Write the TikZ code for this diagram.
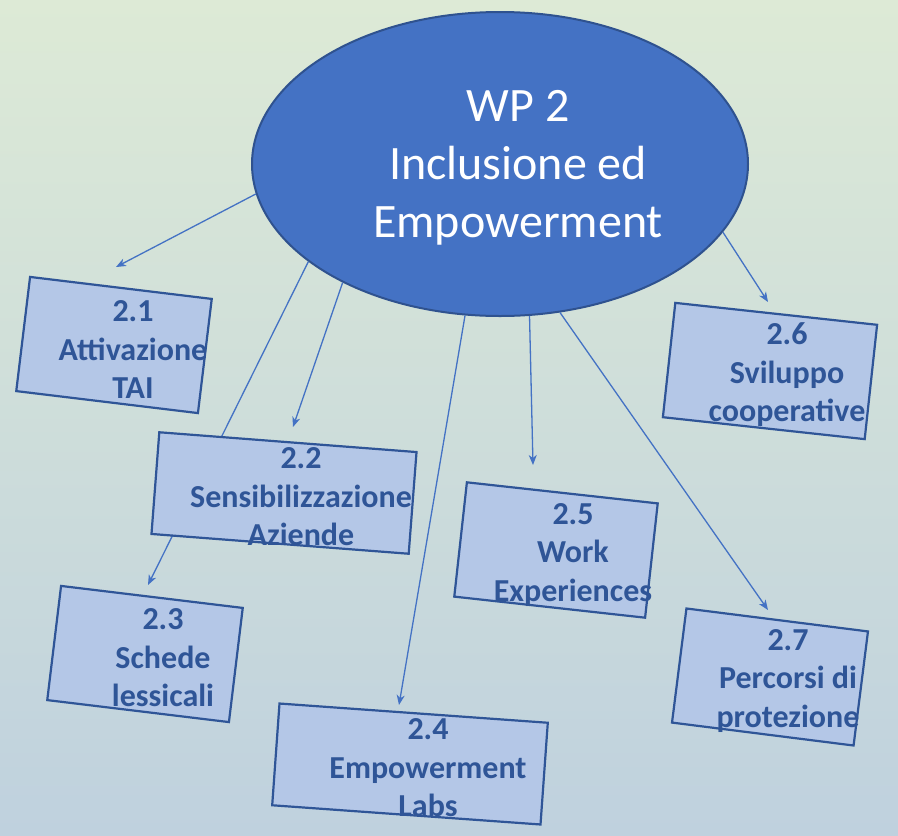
\documentclass[tikz,border=0pt]{standalone}
\usepackage{fontspec}
\setmainfont{Carlito}
\usepackage{xcolor}
\usepackage{tikz}
\usetikzlibrary{shapes,arrows.meta,positioning,calc}

\definecolor{bgtop}{HTML}{DDEAD6}
\definecolor{bgbot}{HTML}{BFD1DE}
\definecolor{wpfill}{HTML}{4472C4}
\definecolor{wpline}{HTML}{2F528F}
\definecolor{boxfill}{HTML}{B4C7E7}
\definecolor{boxline}{HTML}{2F5597}

\tikzset{
  wpbox/.style={draw=boxline,fill=boxfill,line width=2.2pt,inner sep=0pt},
  wptext/.style={align=center,text=boxline,font=\fontsize{32}{38.5}\selectfont\bfseries},
  link/.style={draw=wpfill,line width=1.3pt,-{Stealth[length=10pt,width=8pt,inset=3pt]}}
}

\begin{document}
\begin{tikzpicture}[x=1pt,y=-1pt]
    \useasboundingbox (0,0) rectangle (898,836);
    \shade[top color=bgtop,bottom color=bgbot] (0,0) rectangle (898,836);

    % Central ellipse
    \node[draw=wpline,fill=wpfill,line width=2pt,ellipse,minimum width=496pt,minimum height=304pt,inner sep=0pt] (wp) at (500,164) {};
    \node[align=center,text=white,font=\fontsize{48}{58}\selectfont] (wplabel) at (518,168) {WP 2\\Inclusione ed\\Empowerment};

    % Arrow ends
    \coordinate (e1) at (116,267);
    \coordinate (e2) at (293,427);
    \coordinate (e3) at (148,585);
    \coordinate (e4) at (399,705);
    \coordinate (e5) at (533,465);
    \coordinate (e6) at (768,302);
    \coordinate (e7) at (768,610);

    % Arrows (boxes go over them)
    \draw[link] (wp.187.7) -- (e1);
    \draw[link] (wp.217.5) -- (e2);
    \draw[link] (wp.207.8) -- (e3);
    \draw[link] (wp.257.3) -- (e4);
    \draw[link] (wp.281.6) -- (e5);
    \draw[link] (wp.343.1) -- (e6);
    \draw[link] (wp.292.9) -- (e7);

    % Left column
    \node[wpbox,rotate=-6.9,minimum width=183pt,minimum height=115pt] (b1) at (114,345) {};
    \node[wptext] (t1) at (133,350) {2.1\\Attivazione\\TAI};

    \node[wpbox,rotate=-4.4,minimum width=258pt,minimum height=102pt] (b2) at (284,493) {};
    \node[wptext] (t2) at (301,497) {2.2\\Sensibilizzazione\\Aziende};

    \node[wpbox,rotate=-6.9,minimum width=183pt,minimum height=115pt] (b3) at (145,654) {};
    \node[wptext] (t3) at (163,658) {2.3\\Schede\\lessicali};

    \node[wpbox,rotate=-4.1,minimum width=269pt,minimum height=102pt] (b4) at (410,764) {};
    \node[wptext] (t4) at (428,768) {2.4\\Empowerment\\Labs};

    % Right column
    \node[wpbox,rotate=-6.3,minimum width=192pt,minimum height=115pt] (b5) at (556,550) {};
    \node[wptext] (t5) at (573,555) {2.5\\Work\\Experiences};

    \node[wpbox,rotate=-6.2,minimum width=203pt,minimum height=115pt] (b6) at (770,371) {};
    \node[wptext] (t6) at (787,375) {2.6\\Sviluppo\\cooperative};

    \node[wpbox,rotate=-7.2,minimum width=183pt,minimum height=115pt] (b7) at (770,677) {};
    \node[wptext] (t7) at (788,681) {2.7\\Percorsi di\\protezione};
\end{tikzpicture}
\end{document}
